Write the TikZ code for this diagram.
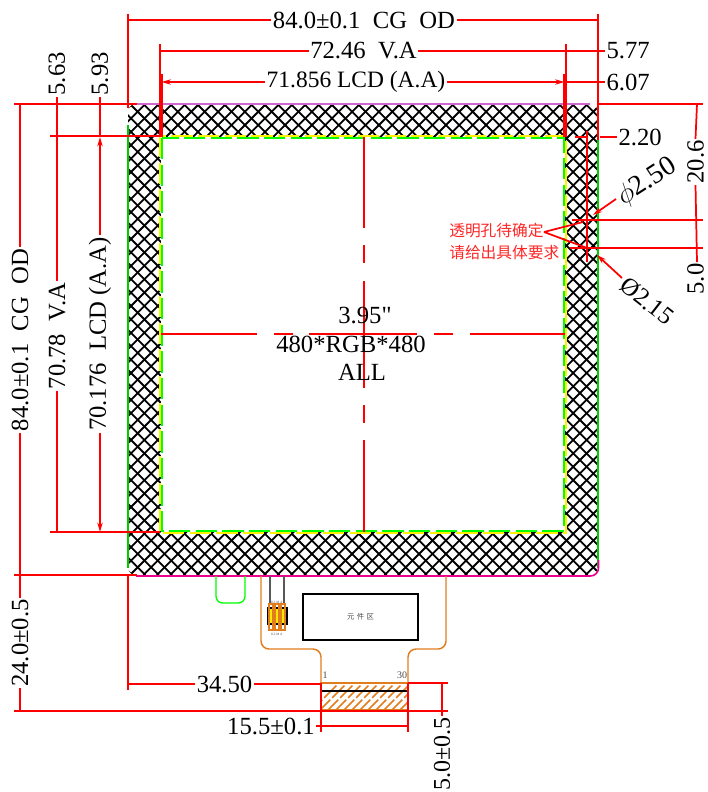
\documentclass[tikz,border=0pt]{standalone}
\usepackage{fontspec}
\setmainfont{Liberation Serif}
\newfontfamily\plainserif{Liberation Serif}
\newfontfamily\cjk{Noto Sans CJK SC}
\usetikzlibrary{arrows.meta}
\definecolor{dimred}{RGB}{255,0,0}
\definecolor{fpc}{RGB}{226,125,30}
\tikzset{x=0.75pt,y=-0.75pt,
 dimline/.style={draw=dimred,line width=1.3pt},
 thickdim/.style={draw=dimred,line width=2.2pt},
 arr/.style={-{Stealth[length=7pt,width=4pt]}},
 dimtext/.style={font=\fontsize{18.5}{20}\selectfont,inner sep=1pt,text=black},
 notetext/.style={font=\cjk\fontsize{11.8}{13}\selectfont,inner sep=0pt,text=dimred!85!white},
 hatchline/.style={draw=black,line width=1.35pt},
 fpcline/.style={draw=fpc,line width=1.1pt,rounded corners=6pt},
 tinytext/.style={inner sep=0pt,text=black!70}}
\begin{document}
\begin{tikzpicture}
\useasboundingbox (0,0) rectangle (707,792);
% hatch band
\begin{scope}
\clip[rounded corners=6pt] (128,104) -- (598,104) -- (598,575) -- (128,575) -- cycle;
\foreach \k in {-45,...,90} {
 \draw[hatchline] (128+\k*13.4+2,104) -- ++(471,471);
 \draw[hatchline] (128+\k*13.4+2,575) -- ++(471,-471);
}
\end{scope}
\fill[white] (161,137) rectangle (565,532);
\draw[green!80!black,line width=0.9pt] (128,125) -- (128,568) (598,140) -- (598,568);
\draw[draw=violet!60!magenta!60,line width=1pt] (136,104) -- (590,104);
\draw[draw=magenta,line width=1.2pt,rounded corners=6pt] (136,576) -- (598.5,576) -- (598.5,560);
% inner LCD outline
\draw[yellow,line width=1.5pt,dash pattern=on 16pt off 4pt] (160,136) rectangle (566,533);
\draw[green,line width=1.5pt,dash pattern=on 16pt off 4pt] (162,138) rectangle (564,531);
% tab
\draw[green,line width=1pt,rounded corners=5pt] (216,576) -- (216,603) -- (245,603) -- (245,576);
% FPC
\draw[fpcline] (261,576) -- (261,649) -- (321,649) -- (321,710) (408,710) -- (408,649) -- (446,649) -- (446,576);
\draw[fpc,line width=1pt] (321,683) rectangle (408,710);
\begin{scope}
\clip (321,683) rectangle (408,710);
\foreach \k in {0,...,14} {\draw[fpc,line width=1.1pt,dash pattern=on 13pt off 2pt] (310+\k*8,712) -- ++(32,-32);}
\end{scope}
\draw[black,line width=1.6pt] (321,691) -- (408,691);
\node[tinytext,font=\fontsize{7.5}{8}\selectfont] (pinA) at (325,675) {1};
\node[tinytext,font=\fontsize{7.5}{8}\selectfont] (pinB) at (402,675) {30};
% component area
\node[draw=black,line width=1.1pt,minimum width=86.25pt,minimum height=34.5pt,inner sep=0pt,font=\cjk\fontsize{5.5}{6}\selectfont,text=black!70] (comp) at (360.5,617) {元\,\,件\,\,区};
% connector pads
\draw[black!65,line width=1.1pt] (270,576) -- (270,604) (284,576) -- (284,604);
\fill[yellow!90!orange] (270,608) rectangle (284,624);
\draw[black,line width=0.9pt] (268,608) rectangle (287,624);
\foreach \xa in {269,275,281} {\draw[fpc,line width=1.1pt] (\xa,604) rectangle ++(4,26);}
\node[tinytext,font=\fontsize{2.5}{3}\selectfont] (padtop) at (277,602) {K2 M A};
\node[tinytext,font=\fontsize{2.5}{3}\selectfont] (padbot) at (277,634) {K2 M A};
% centre lines
\draw[dimline] (161,334) -- (257,334) (274,334) -- (293,334) (309,334) -- (417,334) (434,334) -- (453,334) (470,334) -- (565,334);
\draw[dimline] (364,137) -- (364,228) (364,245) -- (364,263) (364,281) -- (364,388) (364,405) -- (364,423) (364,440) -- (364,532);
\node[dimtext,anchor=base] (c1) at (365,323) {\plainserif 3.95"};
\node[dimtext,anchor=base] (c2) at (351,352) {480*RGB*480};
\node[dimtext,anchor=base] (c3) at (362,380) {ALL};
% top dims
\node[dimtext] (odT) at (364,20) {84.0±0.1\ \ CG\ \ OD};
\coordinate (tl) at (128,20); \coordinate (tr) at (598,20);
\draw[dimline] (tl) -- (odT.west) (odT.east) -- (tr);
\draw[dimline] (128,14) -- (128,108) (598,14) -- (598,140);
\node[dimtext] (vaT) at (363.5,51) {72.46\ \ V.A};
\coordinate (vl) at (160,51); \coordinate (vr) at (566,51);
\draw[dimline] (vl) -- (vaT.west) (vaT.east) -- (vr);
\draw[dimline] (160,44) -- (160,137) (566,44) -- (566,137);
\node[dimtext,anchor=west] (t577) at (605,51) {5.77};
\draw[dimline] (vr) -- (t577.west);
\node[dimtext,font=\fontsize{17.6}{19}\selectfont] (aaT) at (356,82) {71.856\ LCD (A.A)};
\coordinate (al) at (161.5,82); \coordinate (ar) at (564.5,82);
\draw[dimline,arr] (aaT.west) -- (al);
\draw[dimline,arr] (aaT.east) -- (ar);
\draw[thickdim] (161.5,74) -- (161.5,137) (564.5,74) -- (564.5,137);
\node[dimtext,anchor=west] (t607) at (605,82) {6.07};
\draw[dimline] (ar) -- (t607.west);
% left dims
\draw[dimline] (14,104) -- (137,104);
\draw[dimline] (50,136) -- (160,136) (50,532) -- (160,532);
\draw[thickdim] (93,136) -- (160,136) (93,532) -- (160,532) (128,575) -- (137,575);
\draw[dimline] (14,575) -- (128,575);
\node[dimtext,rotate=90] (odL) at (20,340) {84.0±0.1\ \ CG\ \ OD};
\draw[dimline] (20,104) -- (odL.east) (odL.west) -- (20,575);
\node[dimtext,rotate=90] (vaL) at (57,336) {70.78\ \ V.A};
\draw[dimline] (57,136) -- (vaL.east) (vaL.west) -- (57,532);
\node[dimtext,rotate=90,anchor=west] (t563) at (57,97) {5.63};
\draw[dimline] (t563.west) -- (57,136);
\node[dimtext,rotate=90] (aaL) at (100,334) {70.176\ \ LCD (A.A)};
\draw[dimline,arr] (aaL.east) -- (100,137);
\draw[dimline,arr] (aaL.west) -- (100,532);
\node[dimtext,rotate=90,anchor=west] (t593) at (100,97) {5.93};
\draw[dimline] (t593.west) -- (100,137);
% bottom dims
\draw[dimline] (128,575) -- (128,690);
\draw[dimline] (14,711) -- (448,711);
\node[dimtext,rotate=90] (fpcH) at (20,643) {24.0±0.5};
\draw[dimline] (20,575) -- (fpcH.east) (fpcH.west) -- (20,711);
\node[dimtext] (w345) at (224.5,684) {34.50};
\draw[dimline] (128,684) -- (w345.west) (w345.east) -- (321,684);
\node[dimtext] (w155) at (271,726) {15.5±0.1};
\coordinate (wl) at (321,726); \coordinate (wr) at (408,726);
\draw[dimline] (w155.east) -- (wl) -- (wr);
\draw[dimline] (321,683) -- (321,732) (408,683) -- (408,732);
\draw[dimline] (408,683) -- (448,683);
\node[dimtext,rotate=90,font=\fontsize{18}{20}\selectfont] (h50) at (442,754) {5.0±0.5};
\draw[dimline] (442,683) -- (h50.east);
% hole dims
\draw[dimline] (587,131) -- (587,262);
\draw[dimline] (575,137) -- (587,137);
\node[dimtext,anchor=west] (t220) at (617,137) {2.20};
\draw[dimline] (600,137) -- (t220.west);
\draw[dimline] (572,220) -- (703,220) (570,248) -- (703,248) (598,104) -- (703,104);
\node[dimtext,rotate=90] (t206) at (695.5,162) {20.6};
\draw[dimline] (697,104) -- (t206.east) (t206.west) -- (697,262);
\node[dimtext,rotate=90,anchor=east] (t50) at (695.5,262) {5.0};
\node[dimtext,rotate=33,font=\fontsize{21}{22}\selectfont] (phiA) at (647,182) {$\phi$2.50};
\coordinate (phiTip) at (593,215);
\draw[dimline,arr] (616,199) -- (phiTip);
\node[dimtext,rotate=-38] (phiB) at (647,301) {Ø2.15};
\coordinate (phiTipB) at (597,255);
\draw[dimline,arr] (622,278) -- (phiTipB);
\node[notetext,anchor=west] (noteA) at (449,231) {透明孔待确定};
\node[notetext,anchor=west] (noteB) at (449,253) {请给出具体要求};
\coordinate (noteTip) at (544,232);
\draw[dimline] (noteTip) -- (583,222) (noteTip) -- (587,248);
\end{tikzpicture}
\end{document}
